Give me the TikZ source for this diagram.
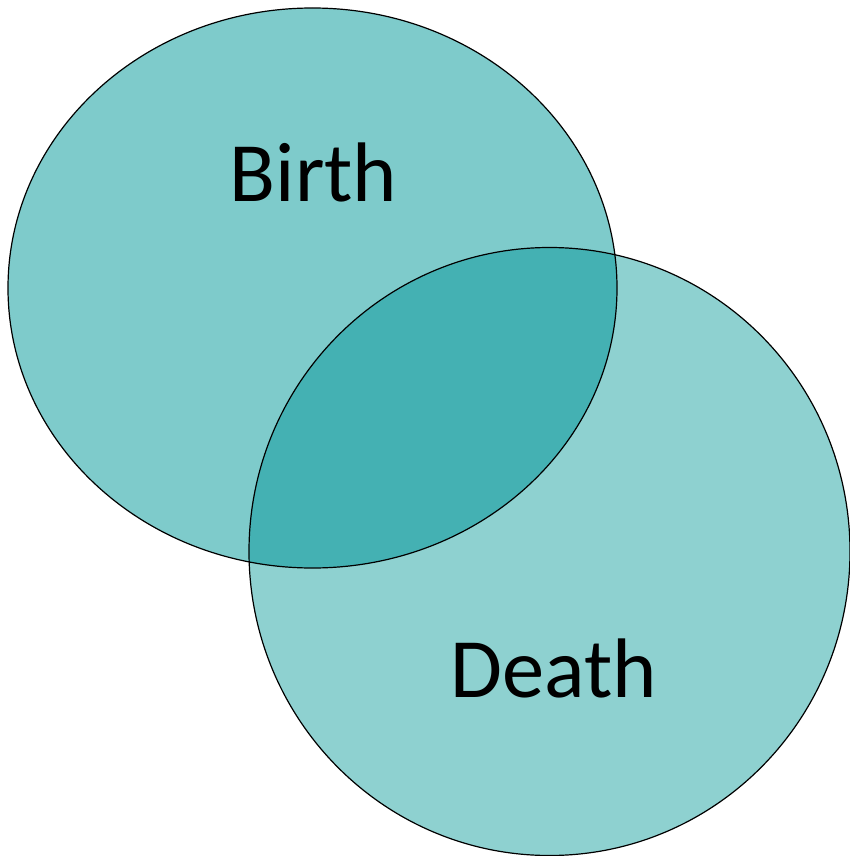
\documentclass[tikz,border=0pt]{standalone}
\usepackage{fontspec}
\setmainfont{Carlito}
\definecolor{birthfill}{HTML}{7ECBCB}
\definecolor{deathfill}{HTML}{8ED1D0}
\definecolor{overlapfill}{HTML}{44B1B3}
\begin{document}
\begin{tikzpicture}[x=1pt,y=-1pt,
  setline/.style={draw=black,line width=1.2pt},
  lbl/.style={font=\fontsize{84.5}{100}\selectfont,text=black,inner sep=0pt}]
\useasboundingbox (0,0) rectangle (850,856);
\fill[white] (0,0) rectangle (850,856);
\fill[birthfill] (312.5,288) ellipse [x radius=304.5, y radius=280];
\fill[deathfill] (549.5,551.5) ellipse [x radius=300.5, y radius=304];
\begin{scope}
  \clip (312.5,288) ellipse [x radius=304.5, y radius=280];
  \fill[overlapfill] (549.5,551.5) ellipse [x radius=300.5, y radius=304];
\end{scope}
\draw[setline] (312.5,288) ellipse [x radius=304.5, y radius=280];
\draw[setline] (549.5,551.5) ellipse [x radius=300.5, y radius=304];
\node[lbl] (birth) at (313.5,172.5) {Birth};
\node[lbl] (death) at (553.5,668) {Death};
\end{tikzpicture}
\end{document}
